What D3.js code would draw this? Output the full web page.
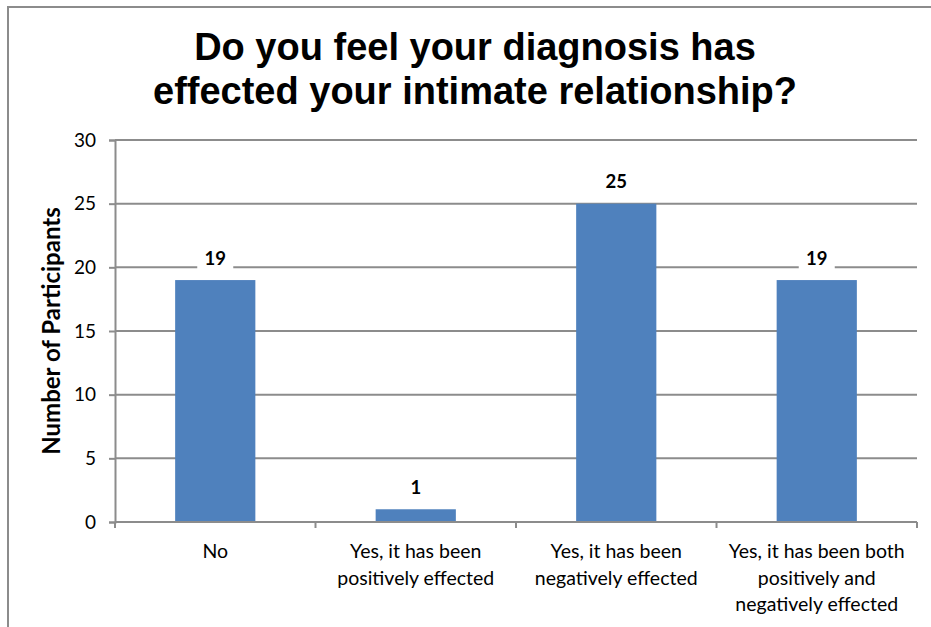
<!DOCTYPE html>
<html><head><meta charset="utf-8">
<script src="https://cdn.jsdelivr.net/npm/d3@7"></script>
<style>body{margin:0;background:#fff}</style>
</head><body>
<svg id="c" width="931" height="627"></svg>
<script>
const categories = [
  ["No"],
  ["Yes, it has been", "positively effected"],
  ["Yes, it has been", "negatively effected"],
  ["Yes, it has been both", "positively and", "negatively effected"]
];
const values = [19, 1, 25, 19];
const yTicks = [0, 5, 10, 15, 20, 25, 30];
const titleLines = ["Do you feel your diagnosis has", "effected your intimate relationship?"];
const yTitle = "Number of Participants";

const svg = d3.select("#c");
const grey = "#8c8c8c";
const labelFont = "Lato, 'Open Sans', sans-serif";

// frame
svg.append("rect").attr("x", 8).attr("y", 7).attr("width", 940).attr("height", 640)
  .attr("fill", "none").attr("stroke", grey).attr("stroke-width", 2);

const m = {left: 115, right: 917, top: 140, bottom: 522};
const x = d3.scaleBand().domain(d3.range(categories.length)).range([m.left, m.right]).paddingInner(0.6).paddingOuter(0.3);
const xb = d3.scaleBand().domain(d3.range(categories.length)).range([m.left, m.right]);
const y = d3.scaleLinear().domain([0, 30]).range([m.bottom, m.top]);

// gridlines
svg.append("g").selectAll("line").data(yTicks.filter(d => d > 0)).join("line")
  .attr("x1", m.left).attr("x2", m.right)
  .attr("y1", d => y(d)).attr("y2", d => y(d))
  .attr("stroke", grey).attr("stroke-width", 2);

// y axis
const ya = svg.append("g").attr("transform", `translate(${m.left},0)`)
  .call(d3.axisLeft(y).tickValues(yTicks).tickSize(6).tickPadding(13));
ya.select(".domain").attr("stroke", grey).attr("stroke-width", 2);
ya.selectAll(".tick line").attr("stroke", grey).attr("stroke-width", 2);
ya.selectAll(".tick text").attr("font-family", labelFont).attr("font-size", 19).attr("fill", "#000");

// bars
svg.append("g").selectAll("rect").data(values).join("rect")
  .attr("x", (d, i) => x(i)).attr("width", x.bandwidth())
  .attr("y", d => y(d)).attr("height", d => y(0) - y(d))
  .attr("fill", "#4F81BD");

// x axis
const xa = svg.append("g").attr("transform", `translate(0,${m.bottom})`);
xa.append("line").attr("x1", m.left).attr("x2", m.right).attr("stroke", grey).attr("stroke-width", 2);
const bounds = d3.range(categories.length + 1).map(i => i < categories.length ? xb(i) : m.right);
xa.selectAll("line.t").data(bounds).join("line").attr("class", "t")
  .attr("x1", d => d).attr("x2", d => d).attr("y1", 0).attr("y2", 6)
  .attr("stroke", grey).attr("stroke-width", 2);
xa.selectAll("text").data(categories).join("text")
  .attr("font-family", labelFont).attr("font-size", 19.5).attr("fill", "#000")
  .attr("text-anchor", "middle")
  .each(function(lines, i) {
    d3.select(this).selectAll("tspan").data(lines).join("tspan")
      .attr("x", xb(i) + xb.bandwidth() / 2)
      .attr("y", (d, j) => 36 + j * 26.5)
      .text(d => d);
  });

// data labels
const dl = svg.append("g").selectAll("g").data(values).join("g")
  .attr("transform", (d, i) => `translate(${x(i) + x.bandwidth() / 2},${y(d) - 22})`);
dl.append("rect").attr("x", -18).attr("y", -14).attr("width", 36).attr("height", 28).attr("fill", "#fff");
dl.append("text").attr("text-anchor", "middle").attr("dy", "0.36em")
  .attr("font-family", labelFont).attr("font-weight", "bold").attr("font-size", 18.5)
  .text(d => d);

// title
svg.append("text").attr("text-anchor", "middle")
  .attr("font-family", "'Liberation Sans', Arial, sans-serif").attr("font-weight", "bold").attr("font-size", 38)
  .selectAll("tspan").data(titleLines).join("tspan")
  .attr("x", 475).attr("y", (d, i) => 60 + i * 44).text(d => d);

// y title
svg.append("text").attr("transform", "translate(60,331) rotate(-90)")
  .attr("text-anchor", "middle").attr("font-family", labelFont).attr("font-weight", "bold")
  .attr("font-size", 24).text(yTitle);
</script>
</body></html>
